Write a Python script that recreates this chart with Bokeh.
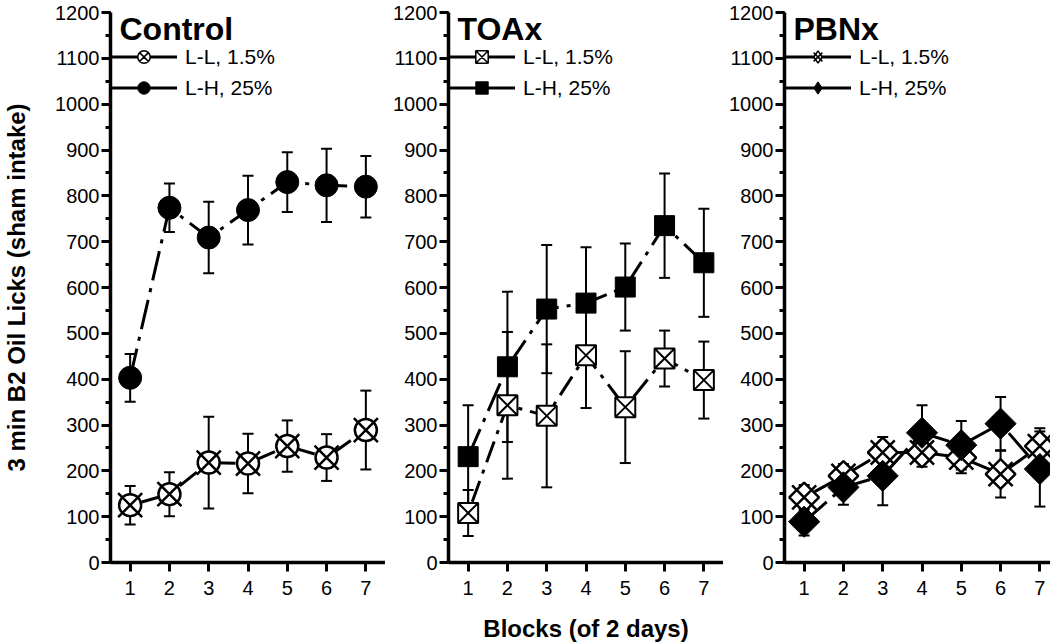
import numpy as np
from bokeh.plotting import figure
from bokeh.models import (ColumnDataSource, Range1d, SingleIntervalTicker, FixedTicker,
                          Whisker, TeeHead, Legend, LegendItem, Label)
from bokeh.layouts import row
from bokeh.embed import file_html
from bokeh.resources import INLINE

# ---------------- data ----------------
blocks = [1, 2, 3, 4, 5, 6, 7]
series_labels = ["L-L, 1.5%", "L-H, 25%"]
panel_titles = ["Control", "TOAx", "PBNx"]
x_label = "Blocks (of 2 days)"
y_label = "3 min B2 Oil Licks (sham intake)"

ctrl_ll = [125, 149, 218, 216, 254, 229, 289]
ctrl_ll_sem = [42, 48, 100, 65, 56, 51, 86]
ctrl_lh = [403, 774, 709, 769, 830, 823, 820]
ctrl_lh_sem = [52, 53, 78, 75, 65, 80, 67]

toax_ll = [108, 343, 320, 452, 339, 445, 398]
toax_ll_sem = [50, 160, 156, 115, 122, 61, 84]
toax_lh = [231, 427, 553, 566, 601, 735, 654]
toax_lh_sem = [112, 164, 140, 122, 95, 114, 118]

pbnx_ll = [142, 189, 240, 240, 229, 193, 254]
pbnx_ll_sem = [27, 26, 34, 31, 34, 51, 39]
pbnx_lh = [89, 164, 189, 283, 256, 303, 204]
pbnx_lh_sem = [30, 38, 64, 60, 53, 58, 82]

# ---------------- styling ----------------
FONT = "Liberation Sans"
FRAME_W, FRAME_H = 275, 550
LL_DASH = "4 8 22 8"
LH_DASH = "30 8 4 8"

# marker layers: (marker, size, fill, line_width, angle)
marker_styles = {
    "Control": {
        "ll": [("circle", 22, "white", 2.5, 0), ("x", 34, None, 2.5, 0)],
        "lh": [("circle", 23, "black", 1, 0)],
        "ll_leg": [("circle_x", "white", 1.5)],
        "lh_leg": [("circle", "black", 1)],
    },
    "TOAx": {
        "ll": [("square_x", 20, "white", 2, 0)],
        "lh": [("square", 20, "black", 1, 0)],
        "ll_leg": [("square_x", "white", 1.5)],
        "lh_leg": [("square", "black", 1)],
    },
    "PBNx": {
        "ll": [("square", 21, "white", 2.5, np.pi / 4), ("x", 34, None, 2.5, 0)],
        "lh": [("square", 22, "black", 1, np.pi / 4)],
        "ll_leg": [("diamond", "white", 1.5), ("x", None, 1.5)],
        "lh_leg": [("diamond", "black", 1)],
    },
}


def add_errorbars(p, x, y, sem):
    y = np.asarray(y, dtype=float)
    s = np.asarray(sem, dtype=float)
    src = ColumnDataSource(dict(x=x, upper=y + s, lower=y - s))
    w = Whisker(base="x", upper="upper", lower="lower", source=src,
                line_color="black", line_width=2, level="underlay",
                upper_head=TeeHead(size=11, line_width=2, line_color="black"),
                lower_head=TeeHead(size=11, line_width=2, line_color="black"))
    p.add_layout(w)


def add_markers(p, x, y, layers):
    for m, size, fill, lw, ang in layers:
        p.scatter(x, y, marker=m, size=size, angle=ang,
                  fill_color=fill if fill else "white",
                  fill_alpha=1 if fill else 0,
                  line_color="black", line_width=lw)


def make_panel(title, ll, ll_sem, lh, lh_sem, border_left, border_right,
               show_ylabel=False, show_xlabel=False):
    p = figure(frame_width=FRAME_W, frame_height=FRAME_H,
               min_border_left=border_left, min_border_right=border_right,
               min_border_top=12, min_border_bottom=80,
               x_range=Range1d(0.5, 7.5), y_range=Range1d(0, 1200),
               output_backend="svg", toolbar_location=None)
    p.outline_line_color = None
    p.xgrid.visible = False
    p.ygrid.visible = False
    p.background_fill_color = "white"
    p.border_fill_color = "white"

    # axes
    p.xaxis.ticker = FixedTicker(ticks=blocks)
    p.yaxis.ticker = SingleIntervalTicker(interval=100, num_minor_ticks=2)
    for ax in (p.xaxis, p.yaxis):
        ax.axis_line_width = 3.5
        ax.axis_line_color = "black"
        ax.major_tick_line_width = 3
        ax.major_tick_line_color = "black"
        ax.major_tick_in = 0
        ax.major_tick_out = 9
        ax.minor_tick_line_width = 3
        ax.minor_tick_in = 0
        ax.minor_tick_out = 5
        ax.major_label_text_font = FONT
        ax.major_label_text_font_size = "20px"
        ax.major_label_text_color = "black"
        ax.axis_label_text_font = FONT
        ax.axis_label_text_font_style = "bold"
        ax.axis_label_text_font_size = "24px"
        ax.axis_label_text_color = "black"
    p.xaxis.minor_tick_line_color = None
    p.yaxis.major_label_standoff = 2
    p.xaxis.major_label_standoff = 9
    if show_ylabel:
        p.yaxis.axis_label = y_label
        p.yaxis.axis_label_standoff = 22
    if show_xlabel:
        p.xaxis.axis_label = x_label
        p.xaxis.axis_label_standoff = 17

    st = marker_styles[title]

    add_errorbars(p, blocks, ll, ll_sem)
    add_errorbars(p, blocks, lh, lh_sem)

    p.line(blocks, ll, line_color="black", line_width=3, line_dash=LL_DASH)
    p.line(blocks, lh, line_color="black", line_width=3, line_dash=LH_DASH)

    add_markers(p, blocks, ll, st["ll"])
    add_markers(p, blocks, lh, st["lh"])

    # legend-only renderers (one hidden NaN point each)
    items = []
    for key, lab in (("ll_leg", series_labels[0]), ("lh_leg", series_labels[1])):
        rs = [p.line(x=[np.nan], y=[np.nan], line_color="black", line_width=3)]
        for m, fill, lw in st[key]:
            rs.append(p.scatter(x=[np.nan], y=[np.nan], marker=m, size=10,
                                fill_color=fill if fill else "white",
                                fill_alpha=1 if fill else 0,
                                line_color="black", line_width=lw))
        items.append(LegendItem(label=lab, renderers=rs))
    leg = Legend(items=items, location=(0, FRAME_H - 29 - 62),
                 glyph_width=67, glyph_height=31, spacing=0, padding=0, margin=0,
                 label_standoff=8, label_text_font=FONT, label_text_font_size="21px",
                 label_text_color="black", border_line_alpha=0,
                 background_fill_alpha=0)
    p.add_layout(leg, "center")

    p.add_layout(Label(x=9, y=FRAME_H + 2, x_units="screen", y_units="screen",
                       text=title, text_font=FONT, text_font_size="32px",
                       text_font_style="bold", text_baseline="top",
                       text_color="black"))
    return p


p1 = make_panel(panel_titles[0], ctrl_ll, ctrl_ll_sem, ctrl_lh, ctrl_lh_sem, 100, 0,
                show_ylabel=True)
p2 = make_panel(panel_titles[1], toax_ll, toax_ll_sem, toax_lh, toax_lh_sem, 63, 0,
                show_xlabel=True)
p3 = make_panel(panel_titles[2], pbnx_ll, pbnx_ll_sem, pbnx_lh, pbnx_lh_sem, 61, 0)

layout = row(p1, p2, p3)
open("out.html", "w").write(file_html(layout, INLINE))
